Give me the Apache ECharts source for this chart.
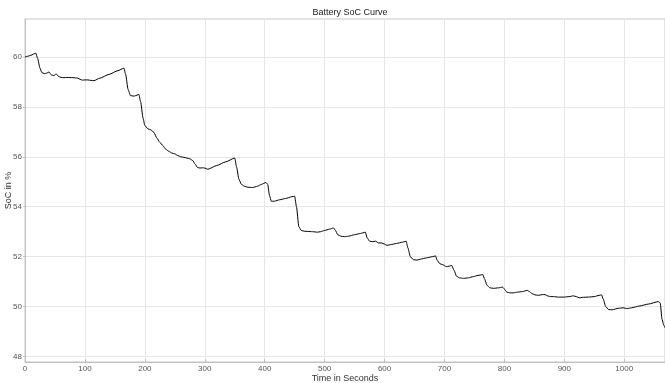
<!DOCTYPE html>
<html>
<head>
<meta charset="utf-8">
<script src="https://cdn.jsdelivr.net/npm/echarts@6/dist/echarts.min.js"></script>
<style>
html,body{margin:0;padding:0;background:#fff;}
#c{width:665px;height:383px;}
</style>
</head>
<body>
<div id="c"></div>
<script>
const chartTitle = "Battery SoC Curve";
const xName = "Time in Seconds";
const yName = "SoC in %";
const yTicks = [48, 50, 52, 54, 56, 58, 60];
const xMin = 0, xMax = 1068, xStep = 100;
const yMin = 47.78, yMax = 61.52;

const timeSec = [0,5,10,18,21,25,28,32,36,40,44,48,52,56,60,65,70,80,88,92,96,100,105,110,115,125,140,155,165,
168,172,176,182,187,190,193,197,200,205,210,215,220,225,230,235,240,245,250,255,260,265,270,275,280,284,288,292,296,300,305,320,335,350,
353,357,361,366,372,380,388,395,402,405,408,411,416,425,435,445,450,453,457,461,466,472,480,488,493,500,508,515,518,522,527,533,540,550,560,568,
571,575,580,585,590,595,600,604,610,620,630,636,639,643,648,654,660,670,680,685,688,692,697,703,708,712,716,720,725,732,740,748,756,764,
767,771,776,782,790,797,800,804,809,815,822,830,838,842,846,851,857,863,868,873,877,882,890,900,908,915,920,925,930,940,950,958,962,
965,969,974,980,990,998,1005,1012,1025,1040,1057,1060,1063,1066,1068];

const socPct = [60.00,60.03,60.07,60.15,59.95,59.55,59.38,59.33,59.35,59.40,59.28,59.25,59.32,59.22,59.18,59.17,59.18,59.17,59.15,59.10,59.07,59.08,59.08,59.06,59.05,59.15,59.30,59.45,59.55,
59.30,58.70,58.45,58.43,58.47,58.50,58.20,57.55,57.25,57.12,57.08,56.98,56.75,56.58,56.45,56.30,56.22,56.15,56.12,56.05,56.00,55.98,55.95,55.92,55.85,55.70,55.57,55.55,55.56,55.55,55.50,55.65,55.80,55.95,
55.60,55.10,54.90,54.82,54.78,54.77,54.82,54.90,54.97,54.90,54.45,54.22,54.22,54.28,54.33,54.40,54.42,54.00,53.20,53.05,53.02,53.01,53.00,52.98,53.00,53.05,53.10,53.15,53.05,52.88,52.82,52.80,52.82,52.88,52.93,52.98,
52.75,52.62,52.60,52.62,52.55,52.55,52.50,52.45,52.48,52.53,52.58,52.62,52.35,52.00,51.88,51.86,51.90,51.95,52.00,52.03,51.85,51.72,51.68,51.60,51.62,51.65,51.45,51.22,51.15,51.13,51.15,51.20,51.25,51.28,
51.10,50.85,50.75,50.73,50.75,50.78,50.70,50.58,50.55,50.55,50.58,50.60,50.65,50.60,50.52,50.47,50.45,50.48,50.48,50.42,50.40,50.40,50.38,50.38,50.40,50.43,50.40,50.35,50.37,50.38,50.40,50.45,50.47,
50.30,50.00,49.88,49.87,49.93,49.95,49.92,49.95,50.02,50.10,50.20,50.15,49.50,49.25,49.15];

const seriesData = timeSec.map((t, i) => [t, socPct[i]]);
const font = "'Liberation Sans', Arial, sans-serif";

const chart = echarts.init(document.getElementById('c'), null, {renderer: 'canvas'});
chart.setOption({
  animation: false,
  backgroundColor: '#ffffff',
  title: {
    text: chartTitle,
    left: 345,
    top: 3,
    textAlign: 'center',
    textStyle: {fontFamily: font, fontSize: 9, fontWeight: 'normal', color: '#222'}
  },
  grid: {left: 25, right: 0, top: 19, bottom: 21, containLabel: false, outerBoundsMode: 'none',
         show: true, borderColor: '#c8c8c8', borderWidth: 1, backgroundColor: 'transparent'},
  xAxis: {
    type: 'value', min: xMin, max: xMax, interval: xStep,
    name: xName, nameLocation: 'middle', nameGap: 12, nameMoveOverlap: false,
    nameTextStyle: {fontFamily: font, fontSize: 9, color: '#333'},
    axisLine: {show: true, lineStyle: {color: '#c0c0c0'}},
    axisTick: {show: true, inside: true, length: 3, lineStyle: {color: '#c0c0c0'}},
    axisLabel: {fontFamily: font, fontSize: 8, color: '#555', margin: 3, showMaxLabel: false,
                formatter: v => String(v)},
    splitLine: {show: true, lineStyle: {color: '#e6e6e6', width: 1}}
  },
  yAxis: {
    type: 'value', min: yMin, max: yMax,
    name: yName, nameLocation: 'middle', nameGap: 12, nameRotate: 90, nameMoveOverlap: false,
    nameTextStyle: {fontFamily: font, fontSize: 9, color: '#333'},
    axisLine: {show: true, lineStyle: {color: '#c0c0c0'}},
    axisTick: {show: true, inside: false, length: 2, customValues: yTicks, lineStyle: {color: '#c0c0c0'}},
    axisLabel: {fontFamily: font, fontSize: 8, color: '#555', margin: 3, customValues: yTicks,
                formatter: v => String(v)},
    splitLine: {show: true, lineStyle: {color: '#e6e6e6', width: 1}}
  },
  series: [{
    type: 'line',
    data: seriesData,
    showSymbol: false,
    smooth: 0.2,
    smoothMonotone: 'x',
    lineStyle: {color: '#000', width: 1},
    z: 5
  }]
});
</script>
</body>
</html>
